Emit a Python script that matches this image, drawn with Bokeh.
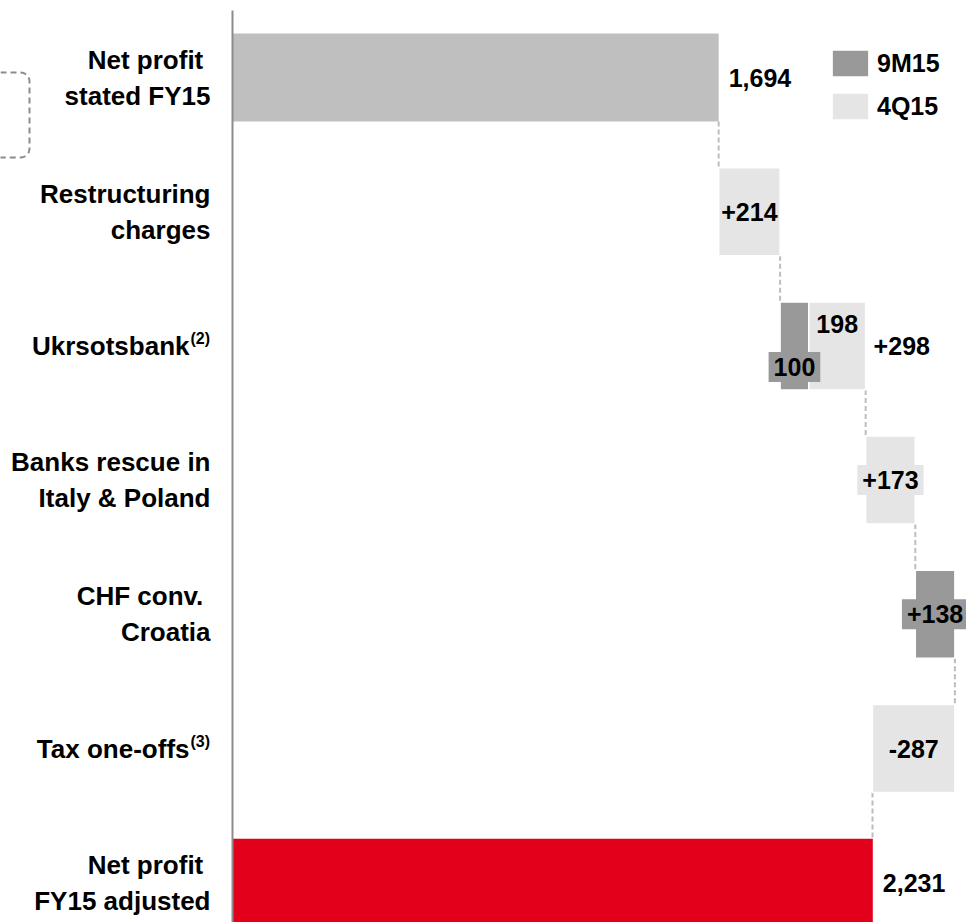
import numpy as np
from bokeh.plotting import figure
from bokeh.models import ColumnDataSource, Range1d, Legend, LegendItem
from bokeh.core.properties import value
from bokeh.embed import file_html
from bokeh.resources import INLINE

# ---- data (EUR m) -------------------------------------------------------
row_labels = ["Net profit \nstated FY15", "Restructuring\ncharges", "Ukrsotsbank",
              "Banks rescue in\nItaly & Poland", "CHF conv. \nCroatia", "Tax one-offs",
              "Net profit \nFY15 adjusted"]
row_notes = ["", "", "(2)", "", "", "(3)", ""]

stated_fy15 = 1694
adjusted_fy15 = 2231

# one-off items between stated and adjusted profit, split by period
adj_9m15 = [0, 100, 0, 138, 0]
adj_4q15 = [214, 198, 173, 0, -287]
series_names = ["9M15", "4Q15"]

# ---- style --------------------------------------------------------------
FONT = "Liberation Sans"
FS_ROW = "26px"
FS_VAL = "25px"
C_STATED = "#bfbfbf"
C_9M = "#999999"
C_4Q = "#e5e5e5"
C_ADJ = "#e2001a"
C_AXIS = "#8c8c8c"
C_DASH = "#bdbdbd"

W, H = 966, 922
PX = 0.287          # pixels per EUR m
AXIS_PX = 232       # where zero sits
ROW0_PX = 77        # centre of the first row
ROW_PITCH = 134.2
BAR_H = 88 / ROW_PITCH
BOX_MIN_PX = 60     # labels on narrower bars get a backing box


def x_at(px):
    return (px - AXIS_PX) / PX


def y_at(px):
    return (px - ROW0_PX) / ROW_PITCH


n_rows = len(row_labels)
last = n_rows - 1

# ---- waterfall geometry -------------------------------------------------
bars = {"stated": dict(y=[0], left=[0], right=[stated_fy15]),
        "9M15": dict(y=[], left=[], right=[]),
        "4Q15": dict(y=[], left=[], right=[]),
        "adjusted": dict(y=[last], left=[0], right=[adjusted_fy15])}

row_end = [stated_fy15]
centre_lbl = dict(x=[], y=[], text=[], color=[], alpha=[])
part_lbl = dict(x=[], y=[], text=[], color=[], alpha=[], dy=[])
side_lbl = dict(x=[], y=[], text=[])

run = stated_fy15
for i, (a, b) in enumerate(zip(adj_9m15, adj_4q15), start=1):
    parts = []
    for amount, key, col in ((a, "9M15", C_9M), (b, "4Q15", C_4Q)):
        if amount:
            bars[key]["y"].append(i)
            bars[key]["left"].append(run)
            bars[key]["right"].append(run + amount)
            parts.append((run, run + amount, amount, col))
            run += amount
    total = a + b
    if len(parts) == 1:
        s, e, amt, col = parts[0]
        centre_lbl["x"].append((s + e) / 2)
        centre_lbl["y"].append(i)
        centre_lbl["text"].append(f"{total:+d}")
        centre_lbl["color"].append(col)
        centre_lbl["alpha"].append(1.0 if abs(amt) * PX < BOX_MIN_PX else 0.0)
    else:
        for s, e, amt, col in parts:
            part_lbl["x"].append((s + e) / 2)
            part_lbl["y"].append(i)
            part_lbl["text"].append(f"{amt:d}")
            part_lbl["color"].append(col)
            part_lbl["alpha"].append(1.0 if abs(amt) * PX < BOX_MIN_PX else 0.0)
            part_lbl["dy"].append(21 if col == C_9M else -22)
        side_lbl["x"].append(run)
        side_lbl["y"].append(i)
        side_lbl["text"].append(f"{total:+d}")
    row_end.append(run)

# dashed connectors between consecutive rows
conn = dict(x=row_end, y0=[i + BAR_H / 2 for i in range(len(row_end))],
            y1=[i + 1 - BAR_H / 2 for i in range(len(row_end))])

# ---- figure -------------------------------------------------------------
p = figure(width=W, height=H, x_range=Range1d(x_at(0), x_at(W)),
           y_range=Range1d(y_at(H), y_at(0)), output_backend="svg",
           toolbar_location=None, x_axis_location=None, y_axis_location=None,
           min_border=0, outline_line_color=None, background_fill_color="white",
           border_fill_color="white")
p.grid.visible = False

# open bracket on the left margin (rounded corners, continues off the page)
r_px, bx, by0, by1 = 9, 29, 72, 157
t1 = np.linspace(-np.pi / 2, 0, 10)
t2 = np.linspace(0, np.pi / 2, 10)
br_x = np.concatenate([[-20], bx - r_px + r_px * np.cos(t1), bx - r_px + r_px * np.cos(t2), [-20]])
br_y = np.concatenate([[by0], by0 + r_px + r_px * np.sin(t1), by1 - r_px + r_px * np.sin(t2), [by1]])
p.line(x=x_at(br_x), y=y_at(br_y), line_color=C_AXIS, line_width=2, line_dash="6 4")

p.segment(x0="x", x1="x", y0="y0", y1="y1", source=ColumnDataSource(conn),
          line_color=C_DASH, line_width=2, line_dash="5 3")

p.hbar(source=ColumnDataSource(bars["stated"]), y="y", left="left", right="right",
       height=BAR_H, fill_color=C_STATED, line_color=None)
r9 = p.hbar(source=ColumnDataSource(bars["9M15"]), y="y", left="left", right="right",
            height=BAR_H, fill_color=C_9M, line_color="white", line_width=1.5)
r4 = p.hbar(source=ColumnDataSource(bars["4Q15"]), y="y", left="left", right="right",
            height=BAR_H, fill_color=C_4Q, line_color="white", line_width=1.5)
p.hbar(source=ColumnDataSource(bars["adjusted"]), y="y", left="left", right="right",
       height=BAR_H, fill_color=C_ADJ, line_color=None)

# zero line
p.segment(x0=[0], x1=[0], y0=[y_at(10)], y1=[y_at(H + 5)], line_color=C_AXIS, line_width=2)

val = dict(text_font=value(FONT), text_font_style="bold", text_font_size=FS_VAL,
           text_color="black")

# row labels
lbl_src = ColumnDataSource(dict(y=list(range(n_rows)), text=row_labels, note=row_notes,
                                dx=[-43 if n else -22 for n in row_notes]))
p.text(x=0, y="y", text="text", x_offset="dx", source=lbl_src, text_align="right",
       text_baseline="middle", line_height=1.2, text_font=value(FONT),
       text_font_style="bold", text_font_size=FS_ROW, text_color="black")
p.text(x=0, y="y", text="note", x_offset=-42, y_offset=-7, source=lbl_src,
       text_align="left", text_baseline="middle", text_font=value(FONT),
       text_font_style="bold", text_font_size="16px", text_color="black")

# totals
tot_src = ColumnDataSource(dict(x=[stated_fy15, adjusted_fy15], y=[0, last],
                                text=[f"{stated_fy15:,}", f"{adjusted_fy15:,}"]))
p.text(x="x", y="y", text="text", x_offset=10, source=tot_src, text_align="left",
       text_baseline="middle", **val)

# step labels on their own bars
p.text(x="x", y="y", text="text", source=ColumnDataSource(centre_lbl), text_align="center",
       text_baseline="middle", background_fill_color="color",
       background_fill_alpha="alpha", padding=(5, 6), **val)
p.text(x="x", y="y", text="text", y_offset="dy", source=ColumnDataSource(part_lbl),
       text_align="center", text_baseline="middle", background_fill_color="color",
       background_fill_alpha="alpha", padding=(5, 6), **val)
p.text(x="x", y="y", text="text", x_offset=8, source=ColumnDataSource(side_lbl),
       text_align="left", text_baseline="middle", **val)

legend = Legend(items=[LegendItem(label=series_names[0], renderers=[r9]),
                       LegendItem(label=series_names[1], renderers=[r4])],
                location=(827, H - 123), orientation="vertical", glyph_width=46,
                glyph_height=34, label_standoff=4, spacing=9, padding=0, margin=0,
                label_height=34, border_line_color=None, background_fill_alpha=0,
                label_text_font=FONT, label_text_font_style="bold",
                label_text_font_size=FS_VAL, label_text_color="black")
p.add_layout(legend)

open("out.html", "w").write(file_html(p, INLINE))
